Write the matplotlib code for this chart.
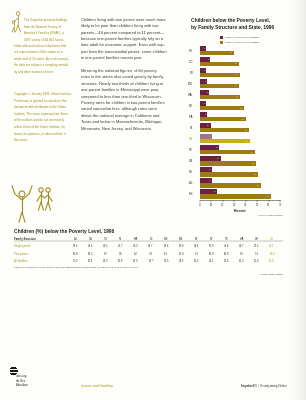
import matplotlib
matplotlib.use("Agg")
import matplotlib.pyplot as plt
import numpy as np
from matplotlib.patches import Rectangle, Circle

plt.rcParams['font.family'] = ['Liberation Sans', 'DejaVu Sans']

# ---------------- data ----------------
table_states = ["AL", "CA", "CO", "FL", "MA", "MI", "MN", "MS", "NJ", "NY", "TX", "WA", "WI", "US"]
single_parent = [53.3, 48.6, 34.3, 42.7, 40.3, 34.7, 34.6, 61.9, 38.6, 50.5, 47.8, 34.7, 30.2, 44.1]
two_parent = [10.6, 18.3, 8.7, 9.6, 6.2, 5.3, 6.3, 15.0, 5.1, 10.9, 16.8, 8.3, 5.1, 10.6]
all_families = [27.0, 26.4, 14.3, 20.8, 15.5, 15.7, 12.5, 33.5, 13.3, 24.1, 25.4, 15.2, 11.4, 20.9]
row_labels = ["Single parent", "Two parent", "All families"]
chart_order = ["WI", "CO", "MI", "MN", "WA", "NJ", "MA", "FL", "US", "TX", "CA", "NY", "AL", "MS"]
x_ticks = [0, 10, 20, 30, 40, 50, 60, 70]
legend_labels = ["Children in Two-Parent Families", "Children in One-Parent Families"]

chart_title = ["Children below the Poverty Level,", "by Family Structure and State, 1996"]
table_title = "Children (%) below the Poverty Level, 1996"

body_par1 = ["Children living with one parent were much more",
             "likely to be poor than children living with two",
             "parents\u201444 percent compared to 11 percent\u2014",
             "because one-parent families typically rely on a",
             "lone adult for economic support. Even with sup-",
             "port from the noncustodial parent, some children",
             "in one-parent families remain poor."]
body_par2 = ["Mirroring the national figures, child poverty",
             "rates in the states also varied greatly by family",
             "structure. Nearly two-thirds of children living in",
             "one-parent families in Mississippi were poor,",
             "compared to less than one-third in Wisconsin.",
             "Poverty rates for children in two-parent families",
             "varied somewhat less, although rates were",
             "above the national average in California and",
             "Texas and below in Massachusetts, Michigan,",
             "Minnesota, New Jersey, and Wisconsin."]
side_par1 = ["The Snapshot presents findings",
             "from the National Survey of",
             "America's Families (NSAF), a",
             "1997 survey of 44,461 house-",
             "holds with and without telephones that",
             "are representative of the nation as a",
             "whole and of 13 states. As in all surveys,",
             "the data are subject to sampling variabil-",
             "ity and other sources of error."]
side_par2 = ["Copyright \u00a9 January 1999. Urban Institute.",
             "Permission is granted to reproduce this",
             "document with attribution to the Urban",
             "Institute. The views expressed are those",
             "of the authors and do not necessarily",
             "reflect those of the Urban Institute, its",
             "board, its sponsors, or other authors in",
             "the series."]

# ---------------- figure ----------------
W, H = 306, 400
fig = plt.figure(figsize=(W / 100, H / 100), dpi=100)
fig.patch.set_facecolor("#fdfdfa")

# background with slight page shading at right edge
bg = fig.add_axes([0, 0, 1, 1])
xs = np.arange(W)
shade = np.clip((xs - 288) / 18.0, 0, 1) ** 1.5
col = np.array([0.993, 0.993, 0.98])
img = col[None, None, :] - shade[None, :, None] * np.array([0.07, 0.07, 0.065])[None, None, :]
img = np.repeat(img, 10, axis=0)
bg.imshow(img, extent=[0, W, H, 0], aspect="auto")
bg.set_xlim(0, W); bg.set_ylim(H, 0); bg.axis("off")

ov = fig.add_axes([0, 0, 1, 1], zorder=5)
ov.set_xlim(0, W); ov.set_ylim(H, 0); ov.axis("off"); ov.patch.set_alpha(0)

dark = "#3a3a3a"
gold_txt = "#a48c1c"
purple = "#6c2143"
gold = "#9b7b12"
purple_us = "#a0718a"
gold_us = "#c6ae20"

# ---------------- sidebar ----------------
y = 20.5
for i, line in enumerate(side_par1):
    x0 = 24 if i < 4 else 14
    ov.text(x0, y, line, fontsize=2.2, color=gold_txt, va="center", ha="left")
    y += 6.4
y = 94
for line in side_par2:
    ov.text(14, y, line, fontsize=2.2, color=gold_txt, va="center", ha="left")
    y += 6.6

# small icon top-left (adult + child)
lw = 0.5
ov.add_patch(Circle((18, 13.5), 1.8, fill=False, ec=gold_txt, lw=lw))
ov.plot([18, 18], [15.3, 25], color=gold_txt, lw=lw)
ov.plot([15.5, 18, 20.5], [32, 25, 32], color=gold_txt, lw=lw)
ov.plot([18, 14], [18, 22], color=gold_txt, lw=lw)
ov.add_patch(Circle((13.5, 22), 1.3, fill=False, ec=gold_txt, lw=lw))
ov.plot([13.5, 13.5], [23.3, 28], color=gold_txt, lw=lw)
ov.plot([12, 13.5, 15], [32, 28, 32], color=gold_txt, lw=lw)

# stick figures lower left
lw = 0.8
ov.add_patch(Circle((22, 194), 3, fill=False, ec=gold_txt, lw=lw))
ov.plot([22, 22], [197, 212], color=gold_txt, lw=lw)
ov.plot([12, 15, 22, 29, 32], [186, 194, 200, 194, 186], color=gold_txt, lw=lw)
ov.plot([19, 22, 25], [222, 212, 222], color=gold_txt, lw=lw)
for cx in (41, 48):
    ov.add_patch(Circle((cx, 190), 2.2, fill=False, ec=gold_txt, lw=lw))
    ov.plot([cx, cx], [192.2, 202], color=gold_txt, lw=lw)
    ov.plot([cx - 2.5, cx, cx + 2.5], [210, 202, 210], color=gold_txt, lw=lw)
ov.plot([37, 41, 44.5, 48, 52], [201, 195, 198, 195, 201], color=gold_txt, lw=lw)

# ---------------- body text ----------------
y = 20.0
for line in body_par1:
    ov.text(81, y, line, fontsize=2.9, color=dark, va="center", ha="left")
    y += 6.35
y = 71.0
for line in body_par2:
    ov.text(81, y, line, fontsize=2.9, color=dark, va="center", ha="left")
    y += 6.4

# ---------------- bar chart ----------------
ov.text(191, 20.3, chart_title[0], fontsize=3.5, fontweight="bold", color="#222222", va="center")
ov.text(191, 27.6, chart_title[1], fontsize=3.5, fontweight="bold", color="#222222", va="center")

ov.add_patch(Rectangle((219.5, 36.4), 3.2, 2.6, color=purple, lw=0))
ov.add_patch(Rectangle((219.5, 41.0), 3.2, 2.6, color=gold, lw=0))
ov.text(225, 37.8, legend_labels[0], fontsize=1.7, color=dark, va="center")
ov.text(225, 42.4, legend_labels[1], fontsize=1.7, color=dark, va="center")

sp = dict(zip(table_states, single_parent))
tp = dict(zip(table_states, two_parent))
one_vals = [sp[s] for s in chart_order]
two_vals = [tp[s] for s in chart_order]
ypos = np.arange(len(chart_order))
pc = [purple_us if s == "US" else purple for s in chart_order]
gc = [gold_us if s == "US" else gold for s in chart_order]

ax = fig.add_axes([199.7 / W, 1 - 199.5 / H, (280.2 - 199.7) / W, (199.5 - 45) / H], zorder=3)
ax.patch.set_alpha(0)
ax.barh(ypos - 0.21, two_vals, height=0.42, color=pc, lw=0)
ax.barh(ypos + 0.21, one_vals, height=0.42, color=gc, lw=0)
for yy, v in zip(ypos, two_vals):
    ax.text(v - 0.6, yy - 0.21, f"{round(v)}", fontsize=1.7, color="#f3e6ee", ha="right", va="center")
for yy, v in zip(ypos, one_vals):
    ax.text(v - 1.2, yy + 0.21, f"{round(v)}", fontsize=1.7, color="#f6ecc4", ha="right", va="center")
ax.set_xlim(0, 70)
ax.set_ylim(len(chart_order) - 0.5, -0.5)
ax.set_yticks(ypos)
ax.set_yticklabels(chart_order)
for lab, s in zip(ax.get_yticklabels(), chart_order):
    lab.set_color("#b3a020" if s == "US" else dark)
ax.tick_params(axis="y", length=0, pad=5, labelsize=2.2)
ax.set_xticks(x_ticks)
ax.tick_params(axis="x", length=1.5, width=0.35, pad=1.2, labelsize=2.1, colors=dark)
for s in ("top", "right", "left"):
    ax.spines[s].set_visible(False)
ax.spines["bottom"].set_linewidth(0.4)
ax.spines["bottom"].set_color(dark)
ax.set_xlabel("Percent", fontsize=2.4, fontweight="bold", color="#222222", labelpad=1.5)

ov.text(283, 215.5, "Source: Urban Institute", fontsize=1.7, color=dark, ha="right", va="center")

# ---------------- table ----------------
ov.text(14, 231.5, table_title, fontsize=3.55, fontweight="bold", color="#222222", va="center")
ov.text(14, 239.0, "Family Structure", fontsize=2.0, fontweight="bold", color="#222222", va="center")
col_x = np.linspace(75.5, 272, len(table_states))
for cx, s in zip(col_x, table_states):
    ov.text(cx, 239.0, s, fontsize=2.0, color="#b3a020" if s == "US" else dark, ha="center", va="center")
ov.plot([14, 283], [241.4, 241.4], color="#777777", lw=0.3)
rows = [single_parent, two_parent, all_families]
row_y = [246.3, 253.8, 261.0]
for lab, vals, ry in zip(row_labels, rows, row_y):
    ov.text(14, ry, lab, fontsize=2.0, color=gold_txt, va="center")
    for cx, s, v in zip(col_x, table_states, vals):
        ov.text(cx, ry, f"{v:.1f}", fontsize=2.0, color="#b3a020" if s == "US" else dark,
                ha="center", va="center")
ov.text(14, 267.5, "Figures in bold represent estimates statistically significantly different from the "
        "national average. US figures in bold, italics, and are not counted.",
        fontsize=1.45, color=dark, va="center")
ov.text(283, 274.5, "Source: Urban Institute", fontsize=1.6, color=dark, ha="right", va="center")

# ---------------- footer ----------------
for i, (x0, x1) in enumerate([(11, 15), (10, 16), (10, 16.5), (10, 16.5), (10, 16), (11, 15)]):
    ov.plot([x0, x1], [367 + i * 1.4, 367 + i * 1.4], color="#111111", lw=0.7)
ov.text(16, 376.5, "Assessing", fontsize=2.0, color="#111111", va="center", family="Liberation Serif")
ov.text(16, 380.5, "the New", fontsize=2.0, color="#111111", va="center", family="Liberation Serif")
ov.text(16, 384.5, "Federalism", fontsize=2.0, color="#111111", va="center", family="Liberation Serif")
ov.text(81, 386, "Income and Hardship", fontsize=2.4, color="#b39a12", va="center")
ov.text(241, 386, "Snapshot II-1", fontsize=1.8, fontweight="bold", color="#222222", va="center")
ov.text(258.5, 386, "/  Poverty among Children", fontsize=1.8, color="#222222", va="center")

fig.savefig("out.png", dpi=100, facecolor=fig.get_facecolor())
